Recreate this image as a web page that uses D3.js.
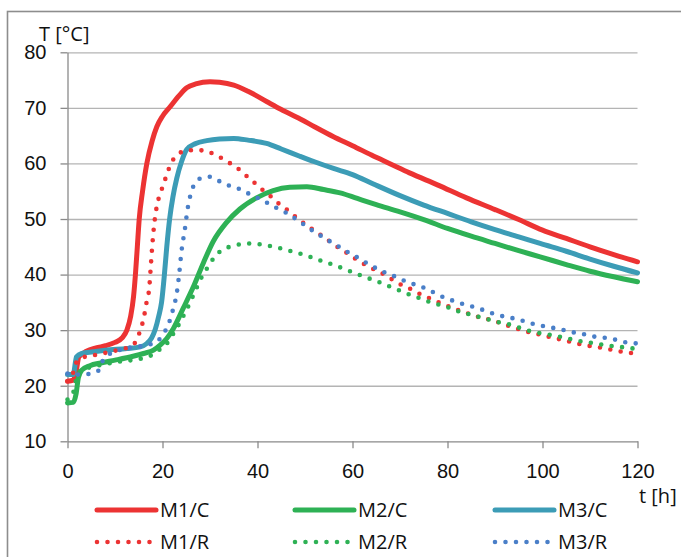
<!DOCTYPE html>
<html>
<head>
<meta charset="utf-8">
<script src="https://cdn.jsdelivr.net/npm/d3@7"></script>
<style>
  html, body { margin: 0; padding: 0; background: #fff; }
  svg { display: block; font-family: "Open Sans", "DejaVu Sans", sans-serif; }
</style>
</head>
<body>
<div id="chart"></div>
<script>
// ── data ────────────────────────────────────────────────
const X_TICKS = [0, 20, 40, 60, 80, 100, 120];
const Y_TICKS = [10, 20, 30, 40, 50, 60, 70, 80];

// [t in h, T in °C]
const M1_C = [[0,20.8],[1.2,21.0],[1.8,22.5],[2.4,25.2],[4,26.2],[6,26.8],[8,27.2],[10,27.8],[11.5,28.6],[12.5,30],
  [13.3,32.5],[13.9,36],[14.3,40],[14.7,45],[15.1,50],[15.8,55],[16.7,60],[17.8,64],[18.8,66.6],[20,68.5],
  [21.6,70.2],[23.5,72.2],[25.1,73.6],[27,74.3],[30,74.7],[32,74.6],[35,74.1],[38,73],[42,71.1],[45,69.7],
  [49,68],[52,66.6],[56,64.8],[60,63.2],[64,61.5],[68,59.9],[72,58.3],[78,56.1],[84,53.8],[90,51.7],
  [95,49.9],[100,48],[105,46.5],[110,45],[115,43.6],[120,42.3]];

const M2_C = [[0,16.9],[1.2,17.0],[1.8,18.5],[2.3,21.5],[3,22.8],[4.7,23.6],[7,24.1],[10,24.6],[13.8,25.3],[16,25.8],
  [18.1,26.4],[19.5,27.3],[20.9,28.5],[22.3,30.3],[24.4,34],[26.5,37.8],[28.6,42.1],[30.7,46],[33.5,49.4],[36.3,51.8],
  [39.8,53.8],[43.3,55.1],[46.8,55.7],[50.4,55.8],[53.9,55.3],[57.4,54.7],[61,53.7],[65,52.6],[70,51.3],[75,49.9],
  [80,48.3],[85,46.9],[90,45.6],[95,44.3],[99.5,43.2],[105,41.8],[110,40.6],[115,39.6],[120,38.7]];

const M3_C = [[0,22],[1.2,22],[1.9,25.2],[3,25.8],[5.4,26.1],[8,26.4],[12.5,26.7],[15.3,27.0],[16.7,27.6],[17.7,28.6],
  [18.5,30.2],[19.2,32.5],[19.8,35],[20.4,40],[20.9,45],[21.5,50],[22.2,54],[23,57.3],[24,60.3],[25.1,62.5],
  [27,63.6],[29.3,64.1],[32,64.4],[35,64.5],[38,64.2],[41.9,63.6],[45,62.6],[48.9,61.3],[52,60.3],[56,59.1],
  [60,58],[64.4,56.3],[70,54.2],[75,52.5],[80,51],[85,49.5],[90,48.1],[95,46.8],[99.5,45.6],[105,44.2],
  [110,42.8],[115,41.5],[120,40.3]];

const M1_R = [[0,20.8],[1.1,22.1],[1.8,24.1],[3.3,25.1],[5.6,25.5],[7.9,25.9],[10,26.3],[12.1,26.7],[14.2,27.7],[15.1,29.4],
  [15.8,31.3],[16.3,33.3],[16.7,35.3],[17.2,37.5],[17.5,41],[17.8,44.7],[18.2,48.6],[18.8,52.3],[19.5,54.5],[20.2,56.2],
  [20.9,58],[21.7,59.8],[23,61.5],[25.1,62.3],[27.3,62.4],[29.6,62.1],[31.7,61.3],[33.7,60.3],[35.6,59.3],[37.2,58.1],
  [39,56.8],[40.7,55.5],[42.5,54.3],[44,53.1],[45.9,51.9],[47.7,50.6],[49.5,49.4],[51.3,48.3],[53.2,47.2],[55,46.1],
  [56.8,45],[58.8,43.9],[60.5,42.9],[62.4,41.9],[64.4,41],[66.5,40.1],[68.4,39.1],[70.4,38.1],[72.5,37.3],[74.4,36.4],
  [76.3,35.7],[78.4,34.9],[80.5,34.2],[82.6,33.5],[84.7,32.9],[86.8,32.3],[89.3,31.8],[91.4,31.2],[93.5,30.6],[95.6,30],
  [97.9,29.5],[100,29.1],[102.3,28.6],[104.5,28.2],[106.7,27.7],[109,27.3],[111.1,27.0],[113.3,26.7],[115.5,26.3],[117.7,26.0],
  [120,25.7]];

const M2_R = [[0,17.5],[1,18.2],[1.8,21],[2.6,22.6],[4.7,23.3],[8,23.9],[11.4,24.4],[13.5,24.6],[15.6,24.9],[17.7,25.5],
  [19.5,26.6],[21.2,27.9],[22.3,29.4],[23.5,31.1],[24.6,32.9],[25.6,34.6],[26.5,36.3],[27.4,38],[28.4,39.8],[29.6,41.4],
  [30.8,43],[32.5,44.4],[34.6,45.1],[36.8,45.5],[39.1,45.6],[41.4,45.3],[43.5,45],[45.8,44.5],[47.9,44],[50.1,43.5],
  [52.3,42.8],[54.4,42.2],[56.5,41.6],[58.6,40.9],[60.7,40.2],[62.8,39.5],[64.9,38.9],[67.1,38.1],[69.2,37.4],[71.1,36.7],
  [73.4,36],[75.5,35.3],[77.7,34.7],[79.8,34.2],[81.9,33.5],[84,33],[86.1,32.5],[88.3,32],[90.4,31.5],[92.7,31.1],
  [94.9,30.5],[97.2,29.9],[99.3,29.5],[101.4,29.2],[103.7,28.8],[105.9,28.4],[108,28.0],[110.4,27.7],[112.6,27.4],[114.9,27.1],
  [117.2,26.9],[120,26.6]];

const M3_R = [[0,22.2],[2,22],[4.4,22.1],[6.5,22.7],[7.3,24.3],[8.5,25.5],[10,26.1],[12.1,26.7],[14.6,27],[16.7,27.3],
  [18.8,27.9],[20.2,29.4],[21.2,30.9],[21.9,32.8],[22.5,34.6],[23,36.6],[23.5,40],[24,44.2],[24.7,48.1],[25.3,51.9],
  [25.8,54],[26.4,55.7],[27.7,57.2],[29.9,57.6],[32,56.8],[34.1,56],[36.2,55.4],[38.3,54.5],[40.2,53.7],[42.3,52.8],
  [44.2,51.9],[46.1,51.1],[47.9,50.1],[49.6,49.1],[51.6,47.9],[53.5,46.9],[55.4,45.9],[57.4,44.9],[59.3,43.9],[61.4,42.9],
  [63.3,41.9],[65.3,41],[67.3,40.2],[69.4,39.5],[71.4,38.7],[73.5,38.1],[75.7,37.4],[77.7,36.5],[79.8,35.7],[81.9,35.1],
  [84,34.5],[86.3,34.0],[88.5,33.3],[90.7,32.7],[92.8,32.3],[95.1,31.9],[97.2,31.3],[99.3,30.9],[101.6,30.5],[103.7,30.2],
  [105.9,29.7],[108.1,29.4],[110.4,28.9],[112.6,28.7],[114.8,28.4],[117,27.9],[120,27.6]];

const SERIES = [
  { name: 'M1/C', data: M1_C, color: '#EC3333', dotted: false },
  { name: 'M2/C', data: M2_C, color: '#2EB155', dotted: false },
  { name: 'M3/C', data: M3_C, color: '#3C9CB6', dotted: false },
  { name: 'M1/R', data: M1_R, color: '#EC3333', dotted: true },
  { name: 'M2/R', data: M2_R, color: '#2EB155', dotted: true },
  { name: 'M3/R', data: M3_R, color: '#4A7FC8', dotted: true },
];

// ── layout ─────────────────────────────────────────────
const W = 681, H = 557;
const FONT = 20;
const DOTS = '0 10.5';

const svg = d3.select('#chart').append('svg')
  .attr('width', W).attr('height', H);

const x = d3.scaleLinear().domain([0, 120]).range([67.5, 637.5]);
const y = d3.scaleLinear().domain([10, 80]).range([441.3, 52.3]);

// outer frame (only top and left are in view)
svg.append('rect')
  .attr('x', 7.5).attr('y', 11.5)
  .attr('width', 720).attr('height', 600)
  .attr('fill', 'none')
  .attr('stroke', '#8d8d8d')
  .attr('stroke-width', 1.6);

// gridlines
svg.append('g')
  .attr('transform', `translate(${x(0)},0)`)
  .call(d3.axisLeft(y).tickValues(Y_TICKS.filter(v => v > 10)).tickSize(-(x(120) - x(0))).tickFormat(''))
  .call(g => g.select('.domain').remove())
  .call(g => g.selectAll('line').attr('stroke', '#b4b4b4').attr('stroke-width', 1.3));

// y axis
svg.append('g')
  .attr('transform', `translate(${x(0)},0)`)
  .call(d3.axisLeft(y).tickValues(Y_TICKS).tickSize(7).tickSizeOuter(0).tickPadding(14))
  .call(g => g.select('.domain').attr('stroke', '#8a8a8a').attr('stroke-width', 1.3))
  .call(g => g.selectAll('line').attr('stroke', '#8a8a8a').attr('stroke-width', 1.3))
  .call(g => g.selectAll('text').attr('font-size', FONT).attr('font-family', null).attr('fill', '#111'));

// x axis
svg.append('g')
  .attr('transform', `translate(0,${y(10)})`)
  .call(d3.axisBottom(x).tickValues(X_TICKS).tickSize(7).tickSizeOuter(0).tickPadding(16))
  .call(g => g.select('.domain').attr('stroke', '#8a8a8a').attr('stroke-width', 1.3))
  .call(g => g.selectAll('line').attr('stroke', '#8a8a8a').attr('stroke-width', 1.3))
  .call(g => g.selectAll('text').attr('font-size', FONT).attr('font-family', null).attr('fill', '#111'));

// axis titles
svg.append('text').attr('x', 39).attr('y', 41)
  .attr('font-size', FONT).attr('fill', '#111').text('T [°C]');
svg.append('text').attr('x', 639).attr('y', 503)
  .attr('font-size', FONT).attr('fill', '#111').text('t [h]');

// curves
const line = d3.line()
  .x(d => x(d[0]))
  .y(d => y(d[1]))
  .curve(d3.curveMonotoneX);

svg.append('g').selectAll('path')
  .data(SERIES)
  .join('path')
  .attr('d', d => line(d.data))
  .attr('fill', 'none')
  .attr('stroke', d => d.color)
  .attr('stroke-width', d => d.dotted ? 4.6 : 5)
  .attr('stroke-linecap', 'round')
  .attr('stroke-linejoin', 'round')
  .attr('stroke-dasharray', d => d.dotted ? DOTS : null);

// legend
const LEG_X = [97, 295, 495];
const LEG_Y = [510, 542];
const leg = svg.append('g').selectAll('g')
  .data(SERIES)
  .join('g')
  .attr('transform', (d, i) => `translate(${LEG_X[i % 3]},${LEG_Y[Math.floor(i / 3)]})`);

leg.append('line')
  .attr('x1', 0).attr('x2', d => d.dotted ? 57 : 59)
  .attr('stroke', d => d.color)
  .attr('stroke-width', d => d.dotted ? 4.6 : 5)
  .attr('stroke-linecap', 'round')
  .attr('stroke-dasharray', d => d.dotted ? DOTS : null);

leg.append('text')
  .attr('x', 63).attr('dy', '0.35em')
  .attr('font-size', FONT).attr('fill', '#111')
  .text(d => d.name);
</script>
</body>
</html>
